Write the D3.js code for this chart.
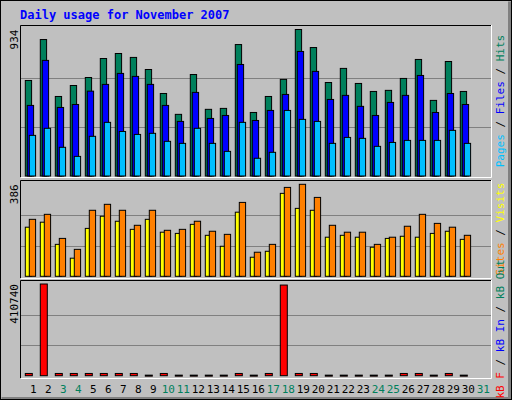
<!DOCTYPE html><html><head><meta charset="utf-8">
<script src="https://cdn.jsdelivr.net/npm/d3@7"></script>
<style>body{margin:0;background:#fff}</style></head><body><svg id="c" width="512" height="400"></svg>
<script>
const days = d3.range(1,32);
const weekend = [3,4,10,11,17,18,24,25,31];
const hits  = [609,870,507,577,628,749,781,756,679,526,393,647,425,431,838,405,507,616,934,819,596,686,590,539,546,622,743,482,730,539];
const files = [450,737,437,456,541,584,654,635,584,450,348,533,367,386,711,354,418,520,794,667,488,514,444,386,469,514,641,405,526,456];
const pages = [259,304,183,125,253,342,284,265,272,221,208,304,208,157,342,113,151,418,361,348,208,246,240,189,214,227,227,227,291,208];
const visits= [206,227,134,76,201,252,231,197,239,185,180,218,172,126,269,80,105,348,285,277,164,172,164,122,159,168,164,180,189,155];
const sites = [239,260,159,113,277,302,277,214,277,193,197,231,189,176,310,101,134,373,386,331,214,185,185,134,164,210,260,222,206,172];
const kbF   = [10000,410740,10000,10000,10000,10000,10000,10000,2500,10000,2500,2500,2500,2500,10000,2500,10000,406000,10000,10000,2500,2500,2500,2500,2500,10000,10000,2500,10000,2500];

const svg = d3.select("#c");
svg.append("rect").attr("width",512).attr("height",400).attr("fill","#C0C0C0");
// outer bevel
svg.append("path").attr("d","M0.5,399.5V0.5H511.5").attr("stroke","#fff").attr("fill","none");
svg.append("path").attr("d","M1.5,398.5H509.5V1.5").attr("stroke","#808080").attr("stroke-width",3).attr("fill","none");
svg.append("rect").attr("x",0.5).attr("y",0.5).attr("width",511).attr("height",399).attr("fill","none").attr("stroke","#000");

svg.append("text").attr("x",20).attr("y",19).text("Daily usage for November 2007")
  .attr("font-family","DejaVu Sans Mono").attr("font-weight","bold").attr("font-size",12).attr("fill","#0000FF");

const x = d3.scaleLinear().domain([1,2]).range([25.3,40.3]);
const L=20,R=491;
function panel(y0,y1,yBase,yTop,max,series,label){
  svg.append("path").attr("d",`M${L+0.5},${y1}V${y0+0.5}H${R}`).attr("stroke","#000").attr("fill","none");
  svg.append("path").attr("d",`M${L+1},${y1+0.5}H${R+0.5}V${y0}`).attr("stroke","#fff").attr("fill","none");
  const y = d3.scaleLinear().domain([0,max]).range([yBase,yTop]);
  [1/3,2/3].forEach(f=>svg.append("line").attr("x1",L+1).attr("x2",R).attr("y1",Math.round(y(max*f))+0.5).attr("y2",Math.round(y(max*f))+0.5).attr("stroke","#808080"));
  series.forEach(s=>{
    svg.append("g").selectAll("rect").data(s.v).join("rect")
      .attr("x",(d,i)=>x(i+1)+s.off).attr("width",s.w)
      .attr("y",d=>y(d)).attr("height",d=>Math.max(1,yBase-y(d)))
      .attr("fill",s.c).attr("stroke","#000").attr("stroke-width",1);
  });
  svg.append("text").attr("transform",`translate(18,${yTop}) rotate(-90)`).attr("text-anchor","end")
    .attr("font-family","DejaVu Sans Mono").attr("font-size",11).attr("fill","#000").text(max);
  const t = svg.append("text").attr("transform",`translate(504,${(y0+y1)/2}) rotate(-90)`).attr("text-anchor","middle")
    .attr("font-family","DejaVu Sans Mono").attr("font-size",11);
  label.forEach((p,i)=>{ if(i) t.append("tspan").attr("fill","#000").text(" / "); t.append("tspan").attr("fill",p[1]).text(p[0]);});
}
panel(25,177,176,29.5,934,[
  {v:hits,c:"#00805C",off:0,w:6.3},
  {v:files,c:"#0000FF",off:2,w:6.3},
  {v:pages,c:"#00C0FF",off:4,w:6.3}],
  [["Pages","#00C0FF"],["Files","#0000FF"],["Hits","#00805C"]]);
panel(180,278,276.3,184.3,386,[
  {v:visits,c:"#FFFF00",off:0,w:6.3},
  {v:sites,c:"#FF8000",off:4,w:6.3}],
  [["Sites","#FF8000"],["Visits","#FFFF00"]]);
panel(280,378,375.7,284,410740,[
  {v:kbF,c:"#FF0000",off:0,w:7}],
  [["kB F","#FF0000"],["kB In","#0000FF"],["kB Out","#00805C"]]);

svg.append("g").selectAll("text").data(days).join("text")
  .attr("x",d=>x(d)+8).attr("y",393).attr("text-anchor","middle")
  .attr("font-family","DejaVu Sans Mono").attr("font-size",11)
  .attr("fill",d=>weekend.includes(d)?"#00805C":"#000").text(d=>d);
</script></body></html>
